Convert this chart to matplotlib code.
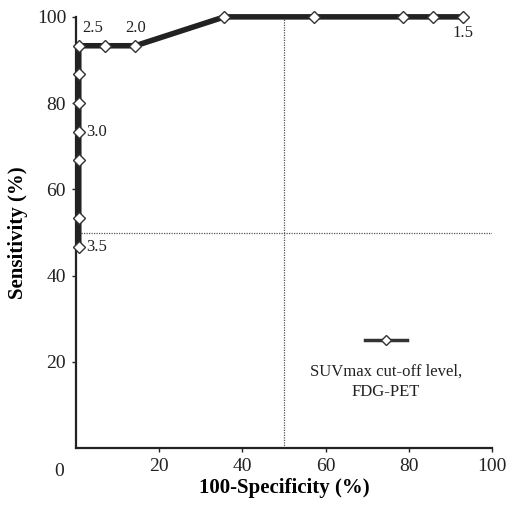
import matplotlib
matplotlib.use("Agg")
import matplotlib.pyplot as plt

# ROC points: 100-specificity vs sensitivity
fpr = [0.7, 0.7, 0.7, 0.7, 0.7, 0.7, 0.7, 7.1, 14.3, 35.7, 57.1, 78.6, 85.7, 92.9]
sens = [46.7, 53.3, 66.7, 73.3, 80.0, 86.7, 93.3, 93.3, 93.3, 100, 100, 100, 100, 100]

# cut-off labels: (x, y, text, ha, va)
cut_labels = [
    (1.5, 95.5, "2.5", "left", "bottom"),
    (14.3, 95.5, "2.0", "center", "bottom"),
    (2.5, 73.3, "3.0", "left", "center"),
    (2.5, 46.7, "3.5", "left", "center"),
    (92.9, 98.0, "1.5", "center", "top"),
]

xticks = [20, 40, 60, 80, 100]
yticks = [20, 40, 60, 80, 100]

plt.rcParams['font.family'] = ['Liberation Serif', 'DejaVu Serif']

fig = plt.figure(figsize=(5.09, 5.11), dpi=100)
ax = fig.add_axes([0.149, 0.123, 0.818, 0.844])

ax.plot([50, 50], [0, 100], color="#555555", lw=0.9, ls=(0, (1, 1)))
ax.plot([0, 100], [50, 50], color="#555555", lw=0.9, ls=(0, (1, 1)))

ax.plot(fpr, sens, color="#222222", lw=4, marker="D", ms=6,
        mfc="white", mec="#333333", mew=1.0, zorder=3, clip_on=False)

for x, y, t, ha, va in cut_labels:
    ax.text(x, y, t, ha=ha, va=va, fontsize=12, color="#222222")

# legend
ax.plot([69.5, 79.5], [25, 25], color="#333333", lw=2.5, zorder=3)
ax.plot([74.5], [25], marker="D", ms=5, mfc="white", mec="#333333", zorder=4)
ax.text(74.5, 19.5, "SUVmax cut-off level,\nFDG-PET", ha="center", va="top",
        fontsize=12, color="#222222", linespacing=1.3)

ax.set_xlim(0, 100)
ax.set_ylim(0, 100)
ax.set_xticks(xticks)
ax.set_yticks(yticks)
ax.tick_params(direction="out", length=3, width=1, labelsize=14,
               colors="#222222", pad=4)
ax.text(-4, -3.5, "0", ha="center", va="top", fontsize=14, color="#222222")

for s in ["top", "right"]:
    ax.spines[s].set_visible(False)
for s in ["left", "bottom"]:
    ax.spines[s].set_linewidth(1.6)
    ax.spines[s].set_color("#222222")

ax.set_xlabel("100-Specificity (%)", fontsize=15, fontweight="bold", labelpad=2)
ax.set_ylabel("Sensitivity (%)", fontsize=15, fontweight="bold", labelpad=6)

fig.savefig("out.png", dpi=100)
